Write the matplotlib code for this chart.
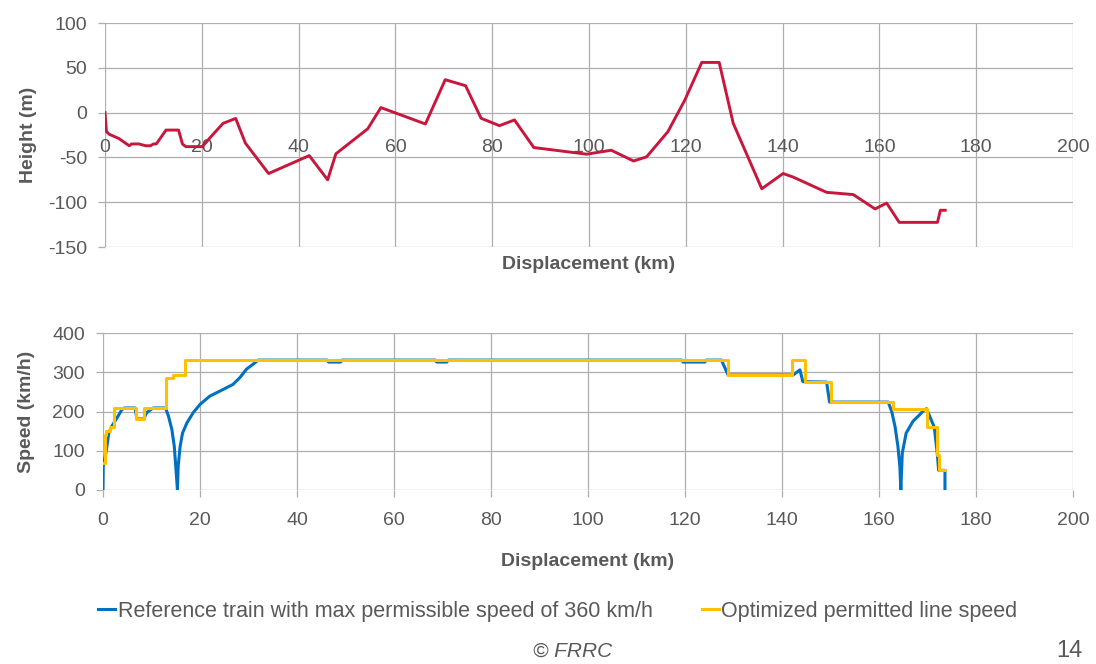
import matplotlib.pyplot as plt

plt.rcParams['font.family'] = ['Liberation Sans', 'DejaVu Sans']
plt.rcParams['axes.unicode_minus'] = False

# elevation profile (km, m)
height_km = [0, 0.3, 0.8, 2.9, 5.0, 5.5, 7.0, 8.4, 9.4, 10.0, 10.6, 12.6, 15.2, 16.0, 16.7,
             20.1, 22.2, 24.4, 27.0, 29.0, 33.8, 42.2, 46.0, 47.7, 54.3, 57.0, 66.2, 70.3,
             74.5, 77.7, 81.5, 84.6, 88.6, 99.5, 104.6, 109.2, 111.9, 116.3, 119.8, 123.3,
             126.9, 129.8, 135.7, 140.1, 142.2, 149.1, 154.6, 159.1, 161.5, 164.1, 172.0,
             172.6, 173.6]
height_m = [0, -21, -24, -29, -37, -35, -35, -37, -37, -35, -35, -19.5, -19.5, -35, -38,
            -38, -25, -12, -6.5, -34, -68, -48, -75, -46, -18, 5.6, -12.7, 36.7,
            30, -6.3, -14.6, -8.2, -39, -46.4, -42, -54, -49.4, -21.3, 14, 56,
            56, -12, -85, -68, -72, -89, -91.5, -107.5, -101, -122.5, -122.5,
            -109, -109]

# reference train speed (km, km/h)
ref_km = [0, 0.05, 0.7, 1.2, 1.8, 2.9, 3.9, 4.4, 6.6, 7.0, 8.4, 9.0, 10.1, 10.4, 12.9, 13.5,
          14.2, 14.7, 15.0, 15.2, 15.35, 15.5, 15.9, 16.4, 17.3, 18.6, 20.0, 22.0, 24.1,
          26.8, 28.2, 29.6, 31.0, 32.0, 46.2, 46.5, 49.0, 49.3, 68.5, 68.8, 70.9, 71.2,
          119.3, 119.6, 124.1, 124.4, 127.5, 128.9, 142.3, 143.7, 144.3, 149.2, 149.8,
          161.9, 162.6, 163.3, 163.9, 164.3, 164.5, 164.8, 165.6, 167.0, 168.4, 169.2,
          169.8, 171.4, 172.0, 172.3, 173.6, 173.6]
ref_kmh = [0, 60, 103, 145, 162, 184, 205, 209, 209, 181, 181, 197, 207, 209, 209, 188,
           154, 111, 60, 26, 0, 60, 111, 145, 171, 197, 218, 239, 252,
           269, 286, 308, 321, 331, 331, 326, 326, 331, 331, 326, 326, 331,
           331, 326, 326, 331, 331, 293, 293, 306, 276, 275, 224,
           224, 201, 162, 111, 60, 0, 94, 145, 175, 192, 203,
           207, 160, 95, 50, 50, 0]

# optimized permitted line speed, step-wise (km, km/h)
limit_km = [0, 0.5, 0.7, 1.4, 2.3, 6.8, 8.4, 12.9, 14.4, 16.9, 128.9, 142.1, 144.7,
            150.0, 162.9, 169.8, 171.9, 172.3, 173.6]
limit_kmh = [68, 141, 150, 160, 209, 181, 209, 285, 293, 332, 293, 332, 275,
             224, 207, 160, 90, 50, 50]

grey = '#595959'
grid_c = '#aeaeae'
fs = 14

fig = plt.figure(figsize=(10.96, 6.64), dpi=100)
ax1 = fig.add_axes([105 / 1096, 1 - 247 / 664, 968 / 1096, 224 / 664])
ax2 = fig.add_axes([103 / 1096, 1 - 490 / 664, 970 / 1096, 157 / 664])

ax1.plot(height_km, height_m, color='#c8163c', lw=2.1, solid_joinstyle='round')
ax1.set_xlim(0, 200)
ax1.set_ylim(-150, 100)
ax1.set_xticks(range(0, 201, 20))
ax1.set_yticks(range(-150, 101, 50))
ax1.spines['bottom'].set_position(('data', 0))
ax1.tick_params(axis='x', length=0, pad=19, labelsize=fs, labelcolor=grey)
ax1.set_xlabel('Displacement (km)', fontsize=fs, fontweight='bold', color=grey)
ax1.xaxis.set_label_coords(0.5, -0.04)
ax1.set_ylabel('Height (m)', fontsize=fs, fontweight='bold', color=grey)

ax2.plot(ref_km, ref_kmh, color='#0070c0', lw=2.2, label='Reference train with max permissible speed of 360 km/h')
ax2.plot(limit_km, limit_kmh, color='#ffc000', lw=2.2, drawstyle='steps-post', label='Optimized permitted line speed')
ax2.set_xlim(0, 200)
ax2.set_ylim(0, 400)
ax2.set_xticks(range(0, 201, 20))
ax2.set_yticks(range(0, 401, 100))
ax2.tick_params(axis='x', length=5, pad=11, labelsize=fs, labelcolor=grey, color=grid_c, width=0.9)
ax2.set_xlabel('Displacement (km)', fontsize=fs, fontweight='bold', color=grey)
ax2.xaxis.set_label_coords(0.5, -0.4)
ax2.set_ylabel('Speed (km/h)', fontsize=fs, fontweight='bold', color=grey)

for ax in (ax1, ax2):
    for s in ax.spines.values():
        s.set_visible(False)
    ax.grid(True, color=grid_c, lw=0.9)
    ax.set_axisbelow(True)
    ax.tick_params(axis='y', length=5, pad=8, labelsize=fs, labelcolor=grey, color=grid_c, width=0.9)

ax1.yaxis.set_label_coords(-0.07, 0.5)
ax2.yaxis.set_label_coords(-0.07, 0.5)

fig.legend(loc='center', bbox_to_anchor=(0.509, 1 - 611 / 664), ncol=2, frameon=False,
           fontsize=15.5, handlelength=0.8, handletextpad=0.1, columnspacing=2.3,
           labelcolor=grey)

fig.text(573 / 1096, 1 - 651 / 664, '© FRRC', ha='center', va='center', fontsize=15,
         style='italic', color=grey)
fig.text(1069 / 1096, 1 - 651 / 664, '14', ha='center', va='center', fontsize=17, color=grey)

fig.savefig('out.png', dpi=100)
